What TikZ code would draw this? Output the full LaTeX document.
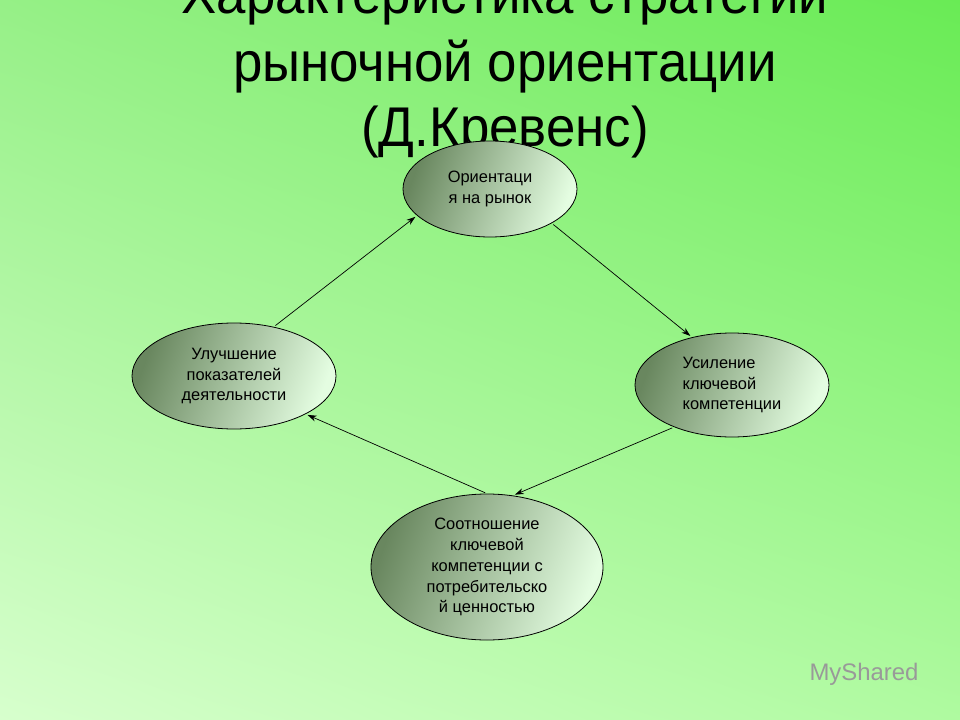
\documentclass[tikz,border=0pt]{standalone}
\usepackage{fontspec}
\setmainfont{Liberation Sans}
\usetikzlibrary{shapes.geometric,arrows.meta,shadings}
\definecolor{bgul}{RGB}{150,240,135}
\definecolor{bgur}{RGB}{105,235,85}
\definecolor{bgll}{RGB}{215,255,205}
\definecolor{bglr}{RGB}{175,250,160}
\definecolor{eldark}{RGB}{105,135,95}
\definecolor{ellight}{RGB}{248,253,245}
\begin{document}
\begin{tikzpicture}[x=1bp,y=-1bp,
  oval/.style={ellipse,draw=black,line width=0.8bp,inner sep=0pt,
    left color=eldark,middle color=ellight,right color=ellight!92!green,shading angle=70,
    font=\fontsize{16.5}{21}\selectfont,align=center},
  ttl/.style={font=\fontsize{53}{60}\selectfont,anchor=base},
  arr/.style={-{Stealth[length=9bp,width=6bp]},line width=0.7bp,shorten >=2bp,shorten <=2bp}]
\useasboundingbox (0,0) rectangle (960,720);
\shade[upper left=bgul,upper right=bgur,lower left=bgll,lower right=bglr] (0,0) rectangle (960,720);
\node[ttl] (t1) at (505,14) {\scalebox{1}[1.06]{Характеристика стратегии}};
\node[ttl] (t2) at (505,82) {\scalebox{1}[1.06]{рыночной ориентации}};
\node[ttl] (t3) at (505,147) {\scalebox{1}[1.06]{(Д.Кревенс)}};
\node[oval,minimum width=174bp,minimum height=96bp] (top) at (490,189) {Ориентаци\\я на рынок};
\node[oval,minimum width=204bp,minimum height=106bp] (left) at (234,376) {Улучшение\\показателей\\деятельности};
\node[oval,minimum width=194bp,minimum height=104bp,align=left] (right) at (732,385) {Усиление\\ключевой\\компетенции};
\node[oval,minimum width=232bp,minimum height=146bp] (bot) at (487,567) {Соотношение\\ключевой\\компетенции с\\потребительско\\й ценностью};
\draw[arr] (left.51) -- (top.200);
\draw[arr] (top.331) -- (right.130);
\draw[arr] (right.216) -- (bot.70);
\draw[arr] (bot.90) -- (left.332);
\node[font=\fontsize{24}{26}\selectfont,text=gray!80,anchor=west] (wm) at (806,674) {MyShared};
\end{tikzpicture}
\end{document}
